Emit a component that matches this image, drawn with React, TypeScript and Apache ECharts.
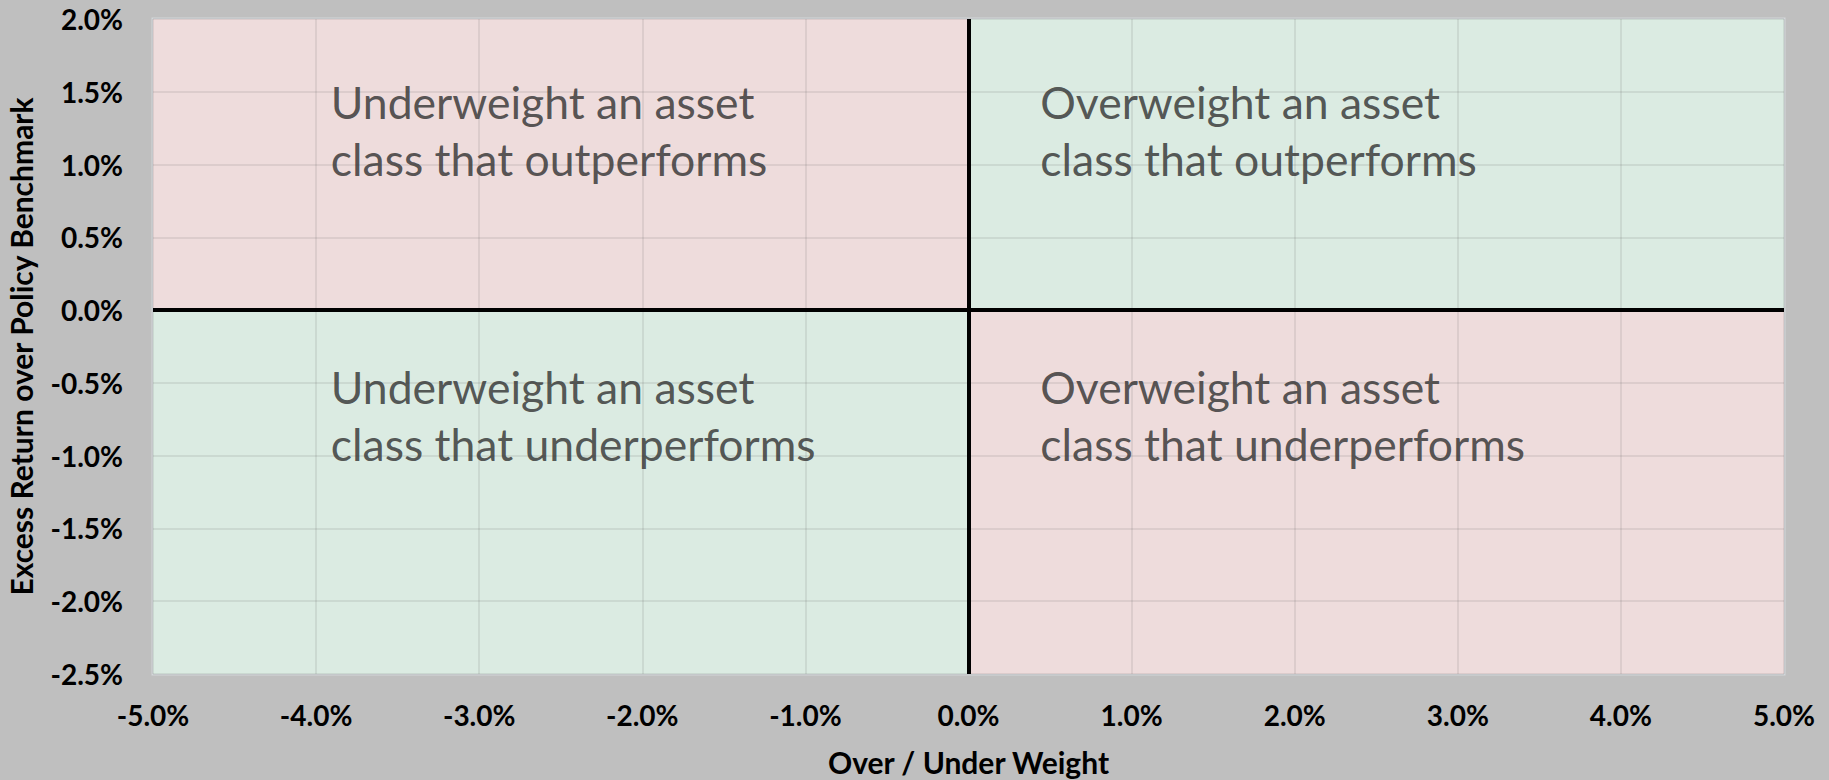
import React, { useEffect, useRef } from "react";
import * as echarts from "echarts";

// Axis ranges
const xRange = [-5, 5];
const xStep = 1;
const yRange = [-2.5, 2];
const yStep = 0.5;

// Quadrants
const quadrantX = [[-5, 0], [0, 5], [-5, 0], [0, 5]];
const quadrantY = [[0, 2], [0, 2], [-2.5, 0], [-2.5, 0]];
const quadrantColors = ["#eedcdc", "#dbebe2", "#dbebe2", "#eedcdc"];

// Quadrant labels
const labelTexts = [
  "Underweight an asset\nclass that outperforms",
  "Overweight an asset\nclass that outperforms",
  "Underweight an asset\nclass that underperforms",
  "Overweight an asset\nclass that underperforms",
];
const labelX = [-3.91, 0.44, -3.91, 0.44];
const labelY = [1.24, 1.24, -0.72, -0.72];

// Reference lines at zero
const zeroLinesX = [0];
const zeroLinesY = [0];

const xTitle = "Over / Under Weight";
const yTitle = "Excess Return over Policy Benchmark";

const fmt = (v: number) => v.toFixed(1) + "%";

export default function App() {
  const ref = useRef<HTMLDivElement>(null);
  useEffect(() => {
    document.body.style.margin = "0";
    const chart = echarts.init(ref.current!, null, { renderer: "svg" });
    const tickStyle = {
      fontFamily: "Lato",
      fontWeight: "bold" as const,
      fontSize: 28,
      color: "#000",
    };
    const titleStyle = {
      fontFamily: "Lato",
      fontWeight: "bold" as const,
      fontSize: 30,
      lineHeight: 32,
      color: "#000",
    };
    chart.setOption({
      animation: false,
      backgroundColor: "#bfbfbf",
      grid: {
        left: 153,
        top: 19,
        right: 45,
        bottom: 106,
        containLabel: false,
        outerBoundsMode: "none",
        show: true,
        backgroundColor: "#f1f3f3",
        borderColor: "#d3d7da",
        borderWidth: 3,
      },
      xAxis: {
        type: "value",
        min: xRange[0],
        max: xRange[1],
        interval: xStep,
        z: 3,
        axisLine: { show: false },
        axisTick: { show: false },
        splitLine: { show: true, lineStyle: { color: "rgba(90,90,90,0.12)", width: 2 } },
        axisLabel: { ...tickStyle, margin: 27, formatter: fmt },
        name: xTitle,
        nameLocation: "middle",
        nameGap: 72,
        nameTextStyle: { ...titleStyle },
      },
      yAxis: {
        type: "value",
        min: yRange[0],
        max: yRange[1],
        interval: yStep,
        z: 3,
        axisLine: { show: false },
        axisTick: { show: false },
        splitLine: { show: true, lineStyle: { color: "rgba(90,90,90,0.12)", width: 2 } },
        axisLabel: { ...tickStyle, margin: 30, formatter: fmt },
        name: yTitle,
        nameLocation: "middle",
        nameGap: 116,
        nameRotate: 90,
        nameTextStyle: { ...titleStyle },
      },
      series: [
        {
          type: "scatter",
          z: 1,
          data: [],
          silent: true,
          markArea: {
            silent: true,
            data: quadrantX.map((xr, i) => [
              { xAxis: xr[0], yAxis: quadrantY[i][0], itemStyle: { color: quadrantColors[i] } },
              { xAxis: xr[1], yAxis: quadrantY[i][1] },
            ]),
          },
        },
        {
          type: "scatter",
          z: 5,
          data: [],
          silent: true,
          markLine: {
            silent: true,
            symbol: "none",
            label: { show: false },
            lineStyle: { color: "#000", width: 4, type: "solid" },
            data: [
              ...zeroLinesX.map((v) => ({ xAxis: v })),
              ...zeroLinesY.map((v) => ({ yAxis: v })),
            ],
          },
        },
        {
          type: "scatter",
          z: 6,
          symbolSize: 0,
          silent: true,
          data: labelTexts.map((t, i) => ({ name: t, value: [labelX[i], labelY[i]] })),
          label: {
            show: true,
            position: [0, 0],
            align: "left",
            verticalAlign: "middle",
            formatter: "{b}",
            fontFamily: "Lato",
            fontSize: 44.5,
            lineHeight: 57,
            color: "#2f2f2f",
          },
        },
      ],
    });
    return () => chart.dispose();
  }, []);
  return <div ref={ref} style={{ width: 1829, height: 780 }} />;
}
